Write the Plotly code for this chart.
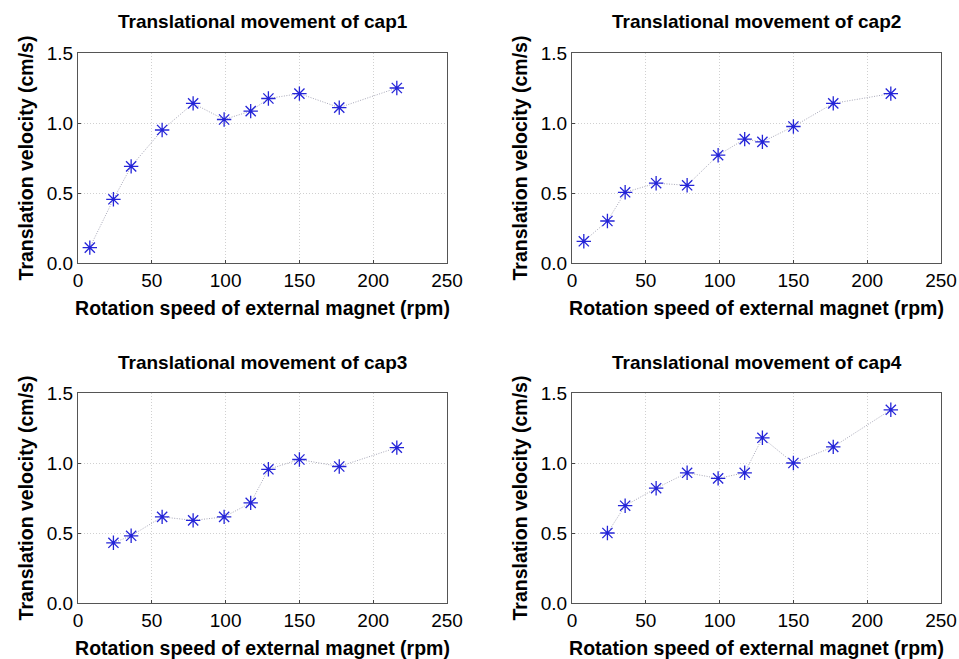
import plotly.graph_objects as go

rpm_a = [8, 24, 36, 57, 78, 99, 117, 129, 150, 177, 216]
rpm_b = [24, 36, 57, 78, 99, 117, 129, 150, 177, 216]

cap1 = [0.11, 0.455, 0.69, 0.95, 1.14, 1.025, 1.085, 1.175, 1.21, 1.11, 1.25]
cap2 = [0.155, 0.30, 0.505, 0.57, 0.555, 0.77, 0.885, 0.865, 0.975, 1.14, 1.21]
cap3 = [0.43, 0.48, 0.615, 0.59, 0.615, 0.715, 0.955, 1.025, 0.975, 1.11]
cap4 = [0.50, 0.695, 0.82, 0.93, 0.89, 0.93, 1.18, 1.0, 1.115, 1.38]

titles = ["Translational movement of cap1", "Translational movement of cap2",
          "Translational movement of cap3", "Translational movement of cap4"]
x_ticks = [0, 50, 100, 150, 200, 250]
y_ticks = [0.0, 0.5, 1.0, 1.5]
y_ticklabels = ["0.0", "0.5", "1.0", "1.5"]
x_label = "Rotation speed of external magnet (rpm)"
y_label = "Translation velocity (cm/s)"

W, H = 959, 659
FONT = "Liberation Sans, Arial, sans-serif"

panels = [
    (rpm_a, cap1, (78, 447), (53, 263)),
    (rpm_a, cap2, (572, 941), (53, 263)),
    (rpm_b, cap3, (78, 447), (393, 603)),
    (rpm_b, cap4, (572, 941), (393, 603)),
]

fig = go.Figure()
layout = dict(
    width=W, height=H,
    margin=dict(l=0, r=0, t=0, b=0, autoexpand=False),
    paper_bgcolor="white", plot_bgcolor="white",
    showlegend=False,
    font=dict(family=FONT, color="black"),
)
annotations = []
for i, (xs, ys, (x0, x1), (y0, y1)) in enumerate(panels):
    n = "" if i == 0 else str(i + 1)
    fig.add_trace(go.Scatter(
        x=xs, y=ys, mode="lines+markers",
        line=dict(color="#a8a8b8", width=1, dash="1px,1.5px"),
        marker=dict(symbol="asterisk-open", size=12, color="#2424d8",
                    line=dict(color="#2424d8", width=1.3)),
        xaxis="x" + n, yaxis="y" + n,
    ))
    xd = [x0 / W, x1 / W]
    yd = [1 - y1 / H, 1 - y0 / H]
    layout["xaxis" + n] = dict(
        domain=xd, anchor="y" + n, range=[0, 250], automargin=False,
        tickvals=x_ticks, ticks="inside", ticklen=3, tickcolor="#444",
        showgrid=True, gridcolor="#d0d0d0", griddash="1px,2px", gridwidth=1,
        showline=True, linecolor="#555", linewidth=1, mirror=True,
        zeroline=False, tickfont=dict(size=19, family=FONT),
        title=dict(text="<b>" + x_label + "</b>", font=dict(size=19.5, family=FONT), standoff=11),
    )
    layout["yaxis" + n] = dict(
        domain=yd, anchor="x" + n, range=[0, 1.5], automargin=False,
        tickvals=y_ticks, ticktext=y_ticklabels,
        ticks="inside", ticklen=3, tickcolor="#444",
        showgrid=True, gridcolor="#d0d0d0", griddash="1px,2px", gridwidth=1,
        showline=True, linecolor="#555", linewidth=1, mirror=True,
        zeroline=False, tickfont=dict(size=19, family=FONT),
        title=dict(text="<b>" + y_label + "</b>", font=dict(size=19.5, family=FONT), standoff=7),
    )
    annotations.append(dict(
        text="<b>" + titles[i] + "</b>", xref="paper", yref="paper",
        x=(xd[0] + xd[1]) / 2, y=yd[1] + 31 / H, xanchor="center", yanchor="middle",
        showarrow=False, font=dict(size=19, family=FONT, color="black"),
    ))
layout["annotations"] = annotations
fig.update_layout(**layout)
fig.write_html(
    "out.html",
    config={"displayModeBar": False},
    post_script="document.body.style.margin='0';document.body.style.overflow='hidden';",
)
